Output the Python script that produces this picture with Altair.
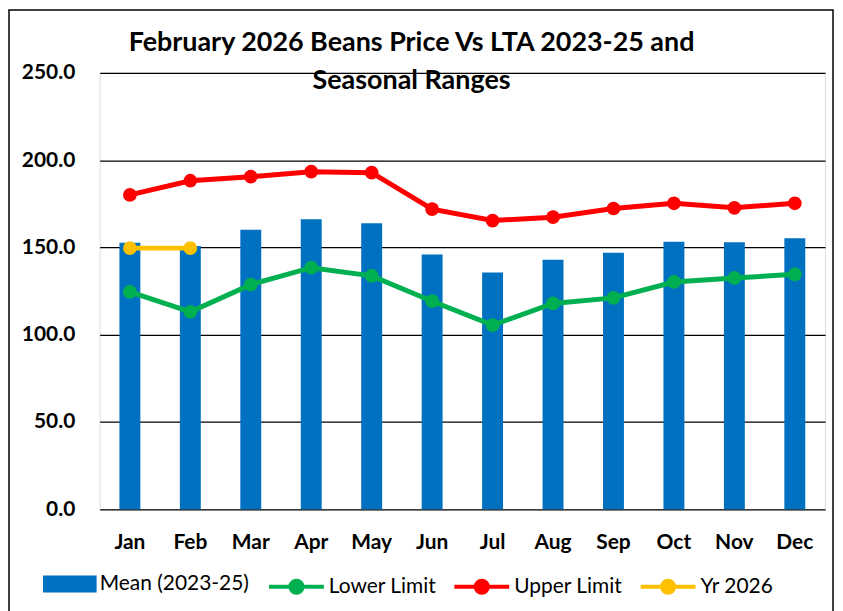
import altair as alt
import pandas as pd

months = ["Jan", "Feb", "Mar", "Apr", "May", "Jun", "Jul", "Aug", "Sep", "Oct", "Nov", "Dec"]
mean_2023_25 = [152.7, 150.8, 160.1, 166.2, 163.9, 145.9, 135.6, 143.0, 147.0, 153.3, 152.9, 155.3]
lower_limit = [124.5, 113.1, 128.7, 138.4, 133.7, 119.2, 105.5, 117.9, 121.1, 130.2, 132.5, 134.6]
upper_limit = [180.1, 188.2, 190.5, 193.4, 192.8, 171.9, 165.4, 167.3, 172.3, 175.3, 172.7, 175.3]
yr_2026 = [149.6, 149.6]

line_series = ["Lower Limit", "Upper Limit", "Yr 2026"]
line_colors = ["#00B050", "#FF0000", "#FFC000"]
bar_name = "Mean (2023-25)"
bar_color = "#0070C0"

FONT = "Lato"

bars_df = pd.DataFrame({"month": months, "value": mean_2023_25, "series": bar_name})
rows = []
for name, vals in zip(line_series, [lower_limit, upper_limit, yr_2026]):
    for m, v in zip(months, vals):
        rows.append({"month": m, "value": v, "series": name})
lines_df = pd.DataFrame(rows)

x_enc = alt.X("month:N", sort=months, title=None,
              scale=alt.Scale(paddingInner=0, paddingOuter=0),
              axis=alt.Axis(labelFont=FONT, labelFontSize=21, labelFontWeight="bold",
                            labelColor="black", labelPadding=22, ticks=False,
                            domain=False, labelAngle=0))
y_enc = alt.Y("value:Q", title=None,
              scale=alt.Scale(domain=[0, 250], nice=False),
              axis=alt.Axis(values=[0, 50, 100, 150, 200, 250], format=".1f",
                            labelFont=FONT, labelFontSize=21, labelFontWeight="bold",
                            labelColor="black", labelPadding=25, ticks=False,
                            domain=False, grid=True, gridColor="black",
                            gridWidth=1.3, gridOpacity=1))

bars = alt.Chart(bars_df).mark_bar(size=21).encode(
    x=x_enc,
    y=y_enc,
    fill=alt.Fill("series:N",
                  scale=alt.Scale(domain=[bar_name], range=[bar_color]),
                  legend=alt.Legend(orient="none", legendX=-57, legendY=486,
                                    direction="horizontal", title=None,
                                    symbolType="M-1,-0.32L1,-0.32L1,0.32L-1,0.32Z",
                                    symbolSize=2900, symbolStrokeWidth=0,
                                    labelFont=FONT, labelFontSize=21,
                                    labelColor="black", labelLimit=400,
                                    labelOffset=3, padding=0)),
)

color_scale = alt.Scale(domain=line_series, range=line_colors)
line_legend = alt.Legend(orient="none", legendX=168, legendY=486,
                         direction="horizontal", title=None, columns=3,
                         symbolType="M-1,0L1,0M-0.22,0A0.22,0.22,0,1,1,0.22,0A0.22,0.22,0,1,1,-0.22,0Z",
                         symbolSize=3025, symbolStrokeWidth=4,
                         labelFont=FONT, labelFontSize=21, labelColor="black",
                         labelLimit=400, labelOffset=3, columnPadding=10, padding=0)

lines = alt.Chart(lines_df).mark_line(strokeWidth=5).encode(
    x=alt.X("month:N", sort=months),
    y="value:Q",
    color=alt.Color("series:N", scale=color_scale, legend=line_legend),
)
points = alt.Chart(lines_df).mark_point(filled=True, size=190, opacity=1).encode(
    x=alt.X("month:N", sort=months),
    y="value:Q",
    color=alt.Color("series:N", scale=color_scale, legend=line_legend),
)

frame_df = pd.DataFrame({"k": [0]})
frame = alt.Chart(frame_df).mark_rect(filled=False, stroke="black", strokeWidth=1.5).encode(
    x=alt.value(-91), x2=alt.value(736), y=alt.value(-63), y2=alt.value(560)
)

chart = alt.layer(bars, lines, points, frame).properties(
    width=728,
    height=438,
    padding={"left": 92, "top": 64, "right": 10, "bottom": 101},
    autosize=alt.AutoSizeParams(type="none"),
    title=alt.Title(
        text=["February 2026 Beans Price Vs LTA 2023-25 and", "Seasonal Ranges"],
        font=FONT, fontSize=27, fontWeight="bold", color="black",
        anchor="middle", frame="group", dx=-51, dy=66, offset=-20, lineHeight=38,
    ),
).configure_view(stroke="black", strokeWidth=1.5).configure(background="white")

chart.save("out.html", embed_options={"renderer": "svg", "actions": False})
